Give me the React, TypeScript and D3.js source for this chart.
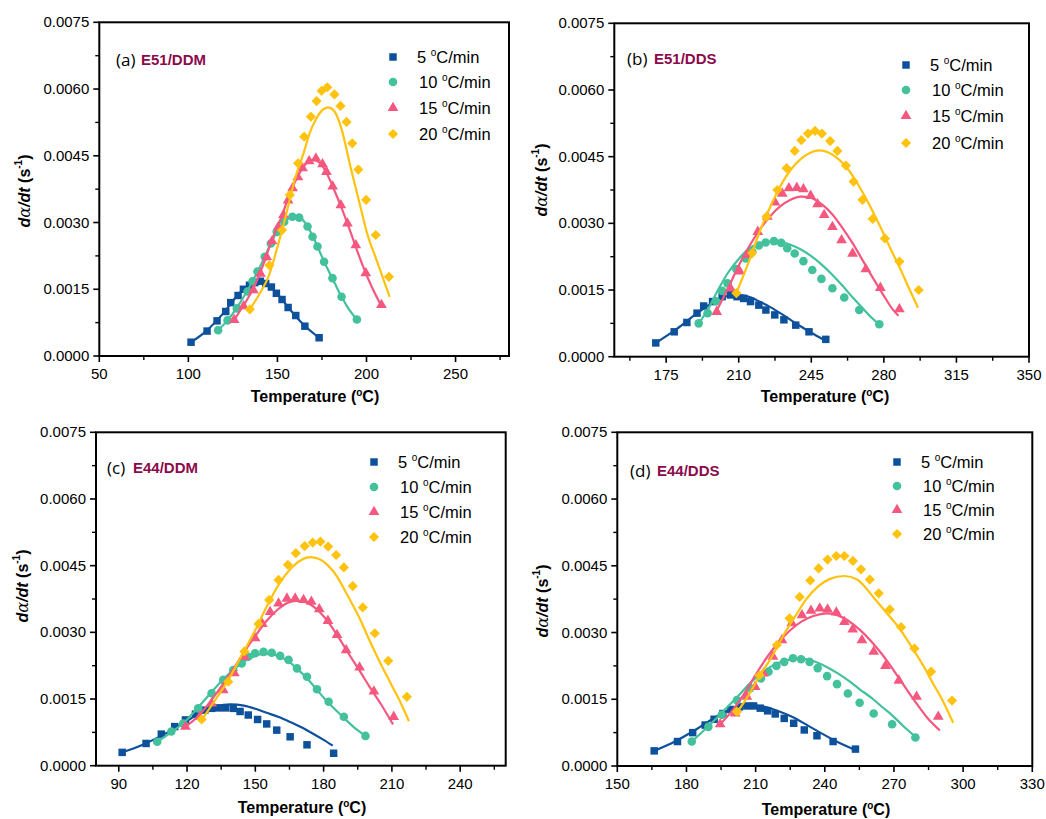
import React from 'react';
import * as d3 from 'd3';

type P = [number, number];

// ---------- shared labels ----------
const rateLabels = ['5', '10', '15', '20'];
const seriesColors = ['#0d519c', '#42c19c', '#f5587f', '#ffc20f'];
const yMajorTicks = [0, 0.0015, 0.003, 0.0045, 0.006, 0.0075];
const yMinorTicks = [0.00075, 0.00225, 0.00375, 0.00525, 0.00675];

// ---------- (a) E51/DDM ----------
const aXMajor = [50, 100, 150, 200, 250];
const aXMinor = [75, 125, 175, 225, 275];
const aPts5: P[] = [[101.5,0.00031],[110.5,0.00056],[116.1,0.00079],[121,0.001],[123.8,0.0012],[127.9,0.00136],[130.9,0.0015],[134.3,0.00159],[137.3,0.00165],[140.4,0.00168],[143.4,0.00163],[146.6,0.00155],[149.4,0.00141],[152.6,0.00127],[156,0.00109],[160.3,0.00091],[165.4,0.00067],[173.4,0.00041]];
const aPts10: P[] = [[116.7,0.00058],[122,0.0008],[127.2,0.00107],[133.2,0.00145],[136,0.00168],[138.8,0.0019],[142.9,0.00223],[146.3,0.00253],[149.6,0.00279],[153.8,0.00302],[158.4,0.00313],[162.2,0.00311],[166.9,0.00291],[169.7,0.00268],[172.5,0.00246],[176.2,0.00212],[180.9,0.00175],[186,0.00133],[194.6,0.00082]];
const aPts15: P[] = [[125.7,0.00081],[131,0.00112],[136.5,0.00148],[140.5,0.00185],[144,0.00222],[147,0.00258],[150.5,0.0029],[153.4,0.00317],[156,0.0035],[158.5,0.00377],[161.5,0.00402],[164.1,0.00422],[167.8,0.00438],[171.6,0.00444],[175.3,0.00431],[177.5,0.00414],[181,0.00381],[185.6,0.00339],[189.3,0.00298],[194,0.00249],[199.6,0.00186],[208.4,0.00115]];
const aPts20: P[] = [[134.5,0.00105],[145.5,0.00204],[152.6,0.00283],[157,0.00362],[161.6,0.00433],[165,0.00493],[168.8,0.00538],[172,0.00573],[174.8,0.00596],[178,0.00604],[182,0.00588],[185.4,0.00562],[188.8,0.00526],[192,0.00478],[195.4,0.00419],[199.8,0.00351],[205.2,0.00272],[212.6,0.00178]];
const aFit5: P[] = [[101.5,0.00031],[110,0.00056],[120,0.00098],[128,0.00138],[134,0.0016],[139,0.00167],[143,0.00164],[148,0.00148],[153,0.00125],[158,0.001],[164,0.00073],[173.4,0.00041]];
const aFit10: P[] = [[116.7,0.00058],[122,0.0008],[127,0.00107],[133,0.00146],[139,0.00191],[143,0.00223],[147,0.0026],[151,0.00286],[155,0.00305],[159,0.00313],[162,0.00312],[166,0.00297],[170,0.00268],[174,0.00232],[178,0.00197],[182,0.00165],[186,0.00133],[190,0.00106],[194.6,0.00082]];
const aFit15: P[] = [[125.7,0.00081],[131,0.00114],[136.5,0.00152],[142,0.00205],[147,0.00262],[152,0.0031],[157,0.00365],[162,0.00408],[166,0.00432],[170,0.00441],[174,0.00433],[178,0.00408],[182,0.00372],[186,0.00333],[190,0.0029],[194,0.00245],[198,0.00202],[203,0.00155],[208.4,0.00112]];
const aFit20: P[] = [[134.5,0.00105],[140,0.0014],[145.3,0.00182],[150,0.00245],[155,0.0032],[160,0.004],[165,0.0046],[168,0.005],[172,0.00535],[175,0.00552],[178.5,0.00559],[182,0.0055],[186,0.0051],[191.2,0.00422],[196,0.00345],[200.6,0.00272],[205,0.00223],[209,0.00178],[213,0.00133]];

// ---------- (b) E51/DDS ----------
const bXMajor = [175, 210, 245, 280, 315, 350];
const bXMinor = [157.5, 192.5, 227.5, 262.5, 297.5, 332.5];
const bPts5: P[] = [[170,0.00031],[178.9,0.00056],[185,0.00077],[189.9,0.00098],[193.1,0.00114],[197.4,0.00124],[202,0.00135],[206,0.00139],[209.2,0.00135],[212.4,0.00131],[215.7,0.00124],[219.7,0.00116],[223.1,0.00105],[227.4,0.00094],[231.8,0.00083],[237.5,0.00071],[243.9,0.00056],[252,0.00039]];
const bPts10: P[] = [[190.7,0.00075],[195,0.00098],[199,0.00125],[202,0.00148],[204.6,0.00165],[208.9,0.00197],[213.3,0.00221],[216.5,0.00236],[219.7,0.0025],[223,0.00257],[227,0.0026],[230.5,0.00256],[233.4,0.00244],[237,0.00232],[241.2,0.00215],[245.5,0.00195],[249.9,0.00175],[255.2,0.00154],[260.9,0.00133],[268.1,0.00105],[277.8,0.00073]];
const bPts15: P[] = [[199.4,0.00101],[206,0.00154],[210.5,0.00192],[214.1,0.00229],[219.2,0.00281],[223.8,0.00315],[227.5,0.00347],[231,0.00367],[234.2,0.00379],[238,0.0038],[241.2,0.00377],[244.7,0.00362],[248,0.00343],[251.2,0.00319],[255.2,0.00292],[259.6,0.00262],[264.9,0.00232],[271.3,0.00197],[278.3,0.00155],[287.5,0.00107]];
const bPts20: P[] = [[208.9,0.00143],[216.5,0.00233],[223.4,0.00315],[228.6,0.00375],[233.1,0.00424],[237,0.00463],[240.2,0.00487],[243.4,0.00502],[246.8,0.00508],[250.1,0.00502],[254.1,0.00485],[257.6,0.00463],[261.7,0.0043],[265.4,0.00394],[269.7,0.00353],[274.6,0.0031],[280.5,0.00266],[287.5,0.00214],[296.8,0.0015]];
const bFit5: P[] = [[170,0.00031],[180,0.00062],[190,0.00098],[200,0.00128],[205,0.00137],[208,0.00139],[212,0.00138],[216,0.00133],[220,0.00124],[225,0.00112],[230,0.00098],[235,0.00083],[240,0.00068],[245,0.00054],[251,0.00038]];
const bFit10: P[] = [[190.7,0.00075],[195,0.00105],[200,0.0015],[205,0.0019],[210,0.0022],[215,0.00243],[220,0.00255],[225,0.00259],[230,0.00258],[235,0.00252],[240,0.00241],[245,0.00226],[250,0.00207],[255,0.00185],[260,0.0016],[265,0.00133],[270,0.00108],[274,0.00088],[278,0.00072]];
const bFit15: P[] = [[199.5,0.00105],[205,0.00155],[210,0.00205],[215,0.00248],[220,0.00285],[225,0.00315],[230,0.00338],[235,0.00353],[240,0.0036],[245,0.00357],[250,0.00343],[255,0.00321],[260,0.0029],[265,0.00255],[270,0.00215],[275,0.00175],[280,0.00137],[284,0.00108],[287,0.00092]];
const bFit20: P[] = [[209,0.00145],[215,0.00215],[220,0.0028],[225,0.00335],[230,0.00383],[235,0.0042],[240,0.00445],[245,0.0046],[249,0.00464],[253,0.0046],[258,0.00445],[263,0.0042],[268,0.00384],[273,0.00342],[278,0.00295],[283,0.00245],[288,0.00197],[292,0.00155],[296.5,0.0011]];

// ---------- (c) E44/DDM ----------
const cXMajor = [90, 120, 150, 180, 210, 240];
const cXMinor = [105, 135, 165, 195, 225, 255];
const cPts5: P[] = [[91.5,0.0003],[102,0.0005],[108.7,0.00071],[114.6,0.00088],[119.3,0.00103],[123.7,0.00116],[127.8,0.00125],[130.8,0.00129],[133.7,0.0013],[136.9,0.0013],[140.3,0.00129],[143.3,0.00122],[146.9,0.00114],[151,0.00104],[155,0.00094],[159.4,0.0008],[165.3,0.00065],[172.7,0.00047],[184.4,0.00028]];
const cPts10: P[] = [[106.9,0.00054],[113.1,0.00077],[118.3,0.00095],[124.9,0.00129],[130.8,0.00163],[135.9,0.00193],[140.3,0.00215],[144,0.0023],[146.9,0.00245],[149.9,0.00253],[153.6,0.00256],[157.2,0.00254],[160.9,0.00247],[164.6,0.00238],[168.3,0.00219],[172.7,0.002],[177.1,0.00172],[182.2,0.00144],[188.9,0.0011],[198.4,0.00067]];
const cPts15: P[] = [[119.3,0.00088],[125.6,0.0011],[130.8,0.0014],[135.9,0.0017],[140.8,0.00208],[145.2,0.00245],[149.9,0.00287],[153.1,0.00319],[156.5,0.00346],[160.2,0.00365],[163.9,0.00376],[167.5,0.00376],[171.2,0.00373],[174.6,0.00369],[178.1,0.00352],[181.9,0.00326],[185.9,0.00294],[189.9,0.0026],[195.8,0.00221],[202.1,0.00167],[210.8,0.0011]];
const cPts20: P[] = [[126.4,0.00104],[138.1,0.00189],[145.2,0.00257],[151.4,0.00319],[156.1,0.00373],[160.2,0.00418],[164.3,0.00452],[167.8,0.00478],[171.7,0.00494],[175.2,0.00502],[178.6,0.00504],[182,0.00493],[185.5,0.00474],[188.9,0.00446],[192.8,0.00404],[197.2,0.00356],[202.5,0.00298],[208.4,0.00236],[216.6,0.00155]];
const cFit5: P[] = [[91.5,0.0003],[100,0.00046],[110,0.00071],[120,0.00101],[127,0.00122],[133,0.00134],[139,0.00138],[145,0.00135],[150,0.00128],[155,0.00119],[160,0.0011],[165,0.00099],[170,0.00087],[175,0.00073],[180,0.00058],[184,0.00045]];
const cFit10: P[] = [[106.9,0.00054],[113,0.00075],[119,0.00099],[125,0.00132],[131,0.00167],[137,0.002],[143,0.00227],[148,0.00243],[153,0.00251],[157,0.00251],[161,0.00245],[165,0.00233],[169,0.00215],[173,0.00195],[177,0.00171],[182,0.00142],[188,0.00112],[193,0.00088],[198.4,0.00067]];
const cFit15: P[] = [[119.3,0.00088],[125,0.00112],[130,0.00143],[135,0.00178],[140,0.00215],[145,0.00255],[150,0.00292],[155,0.00326],[160,0.00352],[164,0.00366],[168,0.00371],[172,0.00368],[176,0.00356],[180,0.00336],[184,0.00309],[188,0.00277],[192,0.00244],[196,0.00212],[200,0.00179],[205,0.0014],[210.5,0.00093]];
const cFit20: P[] = [[126.5,0.00103],[132,0.00145],[138,0.00192],[144,0.00248],[150,0.00305],[155,0.00358],[160,0.00405],[165,0.0044],[170,0.00462],[174,0.00469],[178,0.00465],[182,0.0045],[186,0.00425],[190,0.00388],[195.5,0.00335],[200,0.00284],[205,0.0023],[210,0.0018],[214,0.0014],[217.5,0.001]];

// ---------- (d) E44/DDS ----------
const dXMajor = [150, 180, 210, 240, 270, 300, 330];
const dXMinor = [165, 195, 225, 255, 285, 315];
const dPts5: P[] = [[166,0.00034],[176.1,0.00055],[182.7,0.00075],[188.1,0.00092],[192,0.00105],[195.8,0.00118],[199.2,0.00127],[203,0.00133],[206.2,0.00135],[209.1,0.00135],[212,0.0013],[215.2,0.00124],[218.5,0.00117],[222.4,0.00107],[226.5,0.00096],[231.1,0.00081],[236.6,0.00068],[243.6,0.00055],[253.3,0.00038]];
const dPts10: P[] = [[182.3,0.00055],[189.5,0.00088],[195.3,0.00115],[201.9,0.00148],[207.6,0.00175],[212.3,0.00197],[215.6,0.00212],[219,0.00225],[222.4,0.00234],[226.2,0.00242],[229.7,0.0024],[233.4,0.00234],[236.9,0.0022],[241,0.00202],[245.3,0.00184],[250,0.00163],[255.1,0.00142],[261.2,0.00118],[269.2,0.00094],[279.3,0.00064]];
const dPts15: P[] = [[194.6,0.00094],[201.1,0.00118],[206.2,0.00156],[209.8,0.00178],[213.4,0.00208],[217.5,0.00246],[221.4,0.00283],[225.7,0.00321],[230.1,0.00339],[234,0.00349],[237.8,0.00354],[241.2,0.00352],[245,0.00345],[248.5,0.00324],[252.1,0.00307],[256.1,0.00283],[261.2,0.00257],[266.3,0.00225],[272.1,0.00192],[279.8,0.00156],[289.2,0.00111]];
const dPts20: P[] = [[201.9,0.00122],[211.7,0.00204],[219.2,0.00272],[224.7,0.00332],[229.1,0.0038],[233.7,0.00417],[237.3,0.00444],[241.2,0.00464],[245,0.00472],[248.5,0.00472],[252.2,0.00461],[255.7,0.00442],[259.5,0.00419],[263.4,0.00388],[268.2,0.00352],[273.1,0.00312],[278.9,0.00264],[286.1,0.00212],[295.2,0.00147]];
const dFit5: P[] = [[166,0.00034],[175,0.00055],[185,0.00085],[195,0.00117],[202,0.00132],[208,0.00136],[214,0.00133],[220,0.00123],[226,0.0011],[232,0.00093],[238,0.00075],[244,0.00058],[250,0.00043],[253,0.00036]];
const dFit10: P[] = [[182.3,0.00055],[188,0.00082],[195,0.00118],[202,0.00155],[208,0.00188],[214,0.00215],[220,0.00232],[226,0.0024],[230,0.00241],[235,0.00236],[241,0.00222],[246,0.00207],[250,0.00193],[255,0.00173],[261,0.0015],[265,0.00132],[269,0.00115],[274,0.0009],[279.3,0.00066]];
const dFit15: P[] = [[194.6,0.00094],[200,0.00125],[205,0.00162],[210,0.00205],[215,0.00245],[220,0.00278],[225,0.00305],[230,0.00325],[235,0.00337],[241,0.00343],[246,0.00338],[250,0.00327],[255,0.00307],[260,0.00281],[265,0.0025],[270,0.00214],[275,0.00176],[280,0.00139],[285,0.00105],[289.9,0.0008]];
const dFit20: P[] = [[201.9,0.0012],[207,0.0016],[212,0.00205],[217,0.00245],[222,0.00293],[227,0.00335],[232,0.00375],[237,0.00403],[242,0.0042],[248.5,0.00427],[254,0.00419],[261,0.0038],[266,0.00349],[272.8,0.00306],[278,0.00265],[283,0.00223],[287,0.00185],[290.2,0.00156],[295.7,0.00097]];

const FONT = '"Liberation Sans", Arial, sans-serif';

interface PanelCfg {
  letter: string; name: string;
  left: number; right: number; top: number; bottom: number;
  xDom: [number, number]; xMajor: number[]; xMinor: number[];
  pts: P[][]; fits: P[][];
  labelX: number; nameX: number; labelY: number;
  legX: number; legTextX: number; legRows: number[];
  yTitleX: number; yTitleY: number; xTitleX: number; xTitleY: number;
}

const panels: PanelCfg[] = [
  { letter: '(a)', name: 'E51/DDM', left: 99.3, right: 509, top: 22.3, bottom: 356,
    xDom: [50, 280], xMajor: aXMajor, xMinor: aXMinor,
    pts: [aPts5, aPts10, aPts15, aPts20], fits: [aFit5, aFit10, aFit15, aFit20],
    labelX: 116, nameX: 141, labelY: 66, legX: 393, legTextX: 417, legRows: [57, 82, 108, 134],
    yTitleX: 24, yTitleY: 191, xTitleX: 315, xTitleY: 402 },
  { letter: '(b)', name: 'E51/DDS', left: 614.3, right: 1029, top: 23.3, bottom: 356.7,
    xDom: [150, 350], xMajor: bXMajor, xMinor: bXMinor,
    pts: [bPts5, bPts10, bPts15, bPts20], fits: [bFit5, bFit10, bFit15, bFit20],
    labelX: 627, nameX: 654, labelY: 65, legX: 906, legTextX: 930, legRows: [65, 90, 116, 143],
    yTitleX: 541, yTitleY: 180, xTitleX: 825, xTitleY: 402 },
  { letter: '(c)', name: 'E44/DDM', left: 96, right: 505.7, top: 432.3, bottom: 765.7,
    xDom: [80, 260], xMajor: cXMajor, xMinor: cXMinor,
    pts: [cPts5, cPts10, cPts15, cPts20], fits: [cFit5, cFit10, cFit15, cFit20],
    labelX: 107, nameX: 133, labelY: 474, legX: 374, legTextX: 398, legRows: [462, 487, 512, 537],
    yTitleX: 22, yTitleY: 586, xTitleX: 302, xTitleY: 813 },
  { letter: '(d)', name: 'E44/DDS', left: 617.3, right: 1032.3, top: 432.3, bottom: 766,
    xDom: [150, 330], xMajor: dXMajor, xMinor: dXMinor,
    pts: [dPts5, dPts10, dPts15, dPts20], fits: [dFit5, dFit10, dFit15, dFit20],
    labelX: 630, nameX: 657, labelY: 477, legX: 897, legTextX: 921, legRows: [462, 486, 510, 534],
    yTitleX: 542, yTitleY: 601, xTitleX: 826, xTitleY: 815 },
];

const symbolPaths = [
  d3.symbol().type(d3.symbolSquare).size(56)() as string,
  d3.symbol().type(d3.symbolCircle).size(58)() as string,
  d3.symbol().type(d3.symbolTriangle).size(50)() as string,
  d3.symbol().type(d3.symbolSquare).size(52)() as string,
];

function Marker({ i, x, y }: { i: number; x: number; y: number }) {
  return (
    <path d={symbolPaths[i]} fill={seriesColors[i]}
      transform={`translate(${x},${y})${i === 3 ? ' rotate(45)' : ''}`} />
  );
}

function Panel({ cfg }: { cfg: PanelCfg }) {
  const x = d3.scaleLinear().domain(cfg.xDom).range([cfg.left, cfg.right]);
  const y = d3.scaleLinear().domain([0, 0.0075]).range([cfg.bottom, cfg.top]);
  const line = d3.line<P>().x(d => x(d[0])).y(d => y(d[1])).curve(d3.curveMonotoneX);
  const fmt = d3.format('.4f');
  return (
    <g fontFamily={FONT}>
      {cfg.fits.map((f, i) => (
        <g key={'s' + i}>
          <path d={line(f) || ''} fill="none" stroke={seriesColors[i]} strokeWidth={2.2} />
          {cfg.pts[i].map((p, j) => <Marker key={j} i={i} x={x(p[0])} y={y(p[1])} />)}
        </g>
      ))}
      <rect x={cfg.left} y={cfg.top} width={cfg.right - cfg.left} height={cfg.bottom - cfg.top}
        fill="none" stroke="#000" strokeWidth={2} />
      {yMajorTicks.map(t => (
        <g key={'ym' + t}>
          <line x1={cfg.left - 6} x2={cfg.left} y1={y(t)} y2={y(t)} stroke="#000" strokeWidth={1.6} />
          <text x={cfg.left - 10} y={y(t) + 5} textAnchor="end" fontSize={15}>{fmt(t)}</text>
        </g>
      ))}
      {yMinorTicks.map(t => (
        <line key={'yn' + t} x1={cfg.left - 4} x2={cfg.left} y1={y(t)} y2={y(t)} stroke="#000" strokeWidth={1.4} />
      ))}
      {cfg.xMajor.map(t => (
        <g key={'xm' + t}>
          <line x1={x(t)} x2={x(t)} y1={cfg.bottom} y2={cfg.bottom + 6} stroke="#000" strokeWidth={1.6} />
          <text x={x(t)} y={cfg.bottom + 23} textAnchor="middle" fontSize={15}>{t}</text>
        </g>
      ))}
      {cfg.xMinor.map(t => (
        <line key={'xn' + t} x1={x(t)} x2={x(t)} y1={cfg.bottom} y2={cfg.bottom + 4} stroke="#000" strokeWidth={1.4} />
      ))}
      <text x={cfg.xTitleX} y={cfg.xTitleY} textAnchor="middle" fontSize={16} fontWeight="bold">
        Temperature (<tspan dy={-6} fontSize={10}>o</tspan><tspan dy={6}>C)</tspan>
      </text>
      <text transform={`translate(${cfg.yTitleX},${cfg.yTitleY}) rotate(-90)`} textAnchor="middle"
        dominantBaseline="central" fontSize={16} fontWeight="bold">
        <tspan fontStyle="italic">d</tspan><tspan fontStyle="italic" fontFamily="'DejaVu Serif', serif" fontWeight="normal">α</tspan><tspan fontStyle="italic">/dt</tspan> (s<tspan dy={-6} fontSize={10}>-1</tspan><tspan dy={6}>)</tspan>
      </text>
      <text x={cfg.labelX} y={cfg.labelY} fontSize={17} fontFamily='"Open Sans", sans-serif'>{cfg.letter}</text>
      <text x={cfg.nameX} y={cfg.labelY - 1} fontSize={15} fontWeight="bold" fill="#8b0a4c">{cfg.name}</text>
      {rateLabels.map((r, i) => (
        <g key={'lg' + i}>
          <Marker i={i} x={cfg.legX} y={cfg.legRows[i]} />
          <text x={cfg.legTextX + (r.length === 1 ? 0 : 2)} y={cfg.legRows[i] + 6} fontSize={16.5}>
            {r} <tspan dy={-7} fontSize={10}>o</tspan><tspan dy={7}>C/min</tspan>
          </text>
        </g>
      ))}
    </g>
  );
}

export default function App() {
  return (
    <div style={{ position: 'absolute', left: 0, top: 0 }}>
      <svg width={1046} height={819} style={{ display: 'block', background: '#fff' }}>
        {panels.map(p => <Panel key={p.letter} cfg={p} />)}
      </svg>
    </div>
  );
}
